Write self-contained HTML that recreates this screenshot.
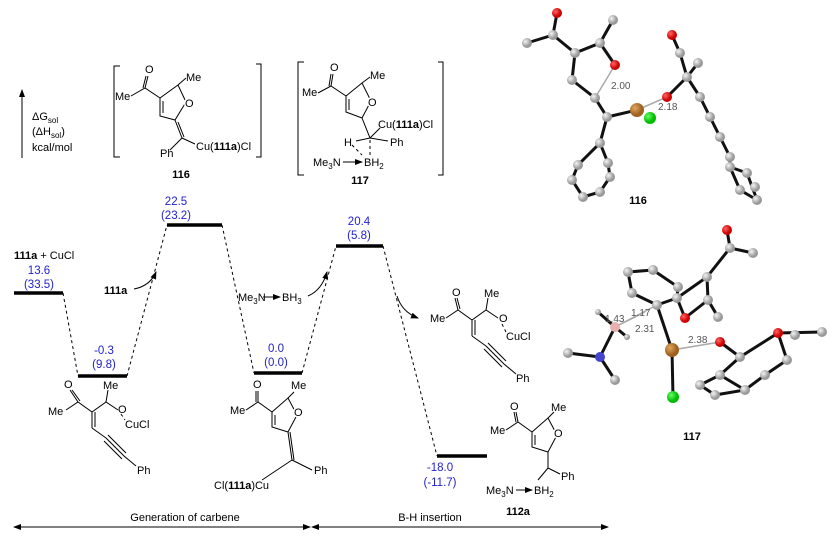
<!DOCTYPE html>
<html><head><meta charset="utf-8"><style>
html,body{margin:0;padding:0;background:#fff;}
svg{display:block;font-family:"Liberation Sans",Arial,sans-serif;}
.b{fill:#2222cc;font-size:11.5px;text-anchor:middle}
.t{font-size:11px;fill:#000}
.lv{stroke:#000;stroke-width:3.5}
.d{stroke:#000;stroke-width:1;stroke-dasharray:3,3;fill:none}
.l{stroke:#000;stroke-width:1;fill:none}
.k{stroke:#111;stroke-width:3;fill:none;stroke-linecap:round}
.g{stroke:#aaa;stroke-width:1.5}
.w{paint-order:stroke;stroke:#fff;stroke-width:3}
</style></head><body>
<svg width="835" height="537" viewBox="0 0 835 537" xmlns="http://www.w3.org/2000/svg">
<defs>
<marker id="ah" markerWidth="8" markerHeight="6" refX="7" refY="3" orient="auto"><path d="M0,0 L8,3 L0,6 z" fill="#000"/></marker>
<marker id="as" markerWidth="8" markerHeight="6" refX="1" refY="3" orient="auto"><path d="M8,0 L0,3 L8,6 z" fill="#000"/></marker>
<radialGradient id="gr" cx="35%" cy="35%"><stop offset="0" stop-color="#f4f4f4"/><stop offset="1" stop-color="#999"/></radialGradient>
<radialGradient id="rd" cx="35%" cy="35%"><stop offset="0" stop-color="#ff6666"/><stop offset="1" stop-color="#cc0000"/></radialGradient>
<radialGradient id="cu" cx="35%" cy="35%"><stop offset="0" stop-color="#e0a860"/><stop offset="1" stop-color="#a06020"/></radialGradient>
<radialGradient id="cl" cx="35%" cy="35%"><stop offset="0" stop-color="#66ff66"/><stop offset="1" stop-color="#00bb00"/></radialGradient>
</defs>

<line x1="22" y1="158" x2="22" y2="90" class="l" marker-end="url(#ah)"/>
<text x="32" y="120" class="t">ΔG<tspan font-size="8" dy="3">sol</tspan></text>
<text x="32" y="135" class="t">(ΔH<tspan font-size="8" dy="3">sol</tspan><tspan dy="-3">)</tspan></text>
<text x="32" y="151" class="t">kcal/mol</text>

<line x1="14" y1="293" x2="63" y2="293" class="lv"/>
<line x1="78" y1="376" x2="127" y2="376" class="lv"/>
<line x1="167" y1="225" x2="222" y2="225" class="lv"/>
<line x1="254" y1="373" x2="302" y2="373" class="lv"/>
<line x1="336" y1="246" x2="383" y2="246" class="lv"/>
<line x1="437" y1="456" x2="487" y2="456" class="lv"/>
<line x1="63" y1="293" x2="78" y2="376" class="d"/>
<line x1="127" y1="376" x2="167" y2="225" class="d"/>
<line x1="222" y1="225" x2="254" y2="373" class="d"/>
<line x1="302" y1="373" x2="336" y2="246" class="d"/>
<line x1="383" y1="246" x2="437" y2="456" class="d"/>

<text x="14" y="259" class="t" font-weight="bold">111a<tspan font-weight="normal"> + CuCl</tspan></text>
<text x="39" y="274" class="b">13.6</text><text x="39" y="288" class="b">(33.5)</text>
<text x="104" y="354" class="b">-0.3</text><text x="104" y="368" class="b">(9.8)</text>
<text x="176" y="205" class="b">22.5</text><text x="176" y="219" class="b">(23.2)</text>
<text x="276" y="352" class="b">0.0</text><text x="276" y="366" class="b">(0.0)</text>
<text x="359" y="225" class="b">20.4</text><text x="359" y="239" class="b">(5.8)</text>
<text x="440" y="471" class="b">-18.0</text><text x="440" y="486" class="b">(-11.7)</text>

<text x="104" y="294" class="t" font-weight="bold">111a</text>
<path d="M134,289 Q150,286 156,272" class="l" marker-end="url(#ah)"/>
<text x="238" y="301" class="t">Me<tspan font-size="8" dy="3">3</tspan><tspan dy="-3">N</tspan></text>
<line x1="263" y1="297" x2="280" y2="297" class="l" marker-end="url(#ah)"/>
<text x="282" y="301" class="t">BH<tspan font-size="8" dy="3">3</tspan></text>
<path d="M308,296 Q322,290 327,272" class="l" marker-end="url(#ah)"/>
<path d="M397,296 Q402,312 418,318" class="l" marker-end="url(#ah)"/>

<line x1="14" y1="527" x2="310" y2="527" class="l" marker-start="url(#as)" marker-end="url(#ah)"/>
<line x1="312" y1="527" x2="608" y2="527" class="l" marker-start="url(#as)" marker-end="url(#ah)"/>
<text x="185" y="521" class="t" text-anchor="middle">Generation of carbene</text>
<text x="430" y="521" class="t" text-anchor="middle">B-H insertion</text>

<!-- 116 -->
<path d="M120,66 H114 V157 H120" class="l"/><path d="M256,64 H261 V157 H256" class="l"/>
<text x="115" y="100" class="t">Me</text><text x="145" y="73" class="t">O</text>
<path d="M131,96 L145,88 L160,98 M145,88 L148,76 M143,88 L146,76 M160,98 L178,85 L186,102 L175,120 L160,116 Z M163,101 L163,113 M178,85 L186,78 M175,120 L182,138 M178,122 L184,137 M182,138 L170,150 M182,138 L195,144" class="l"/>
<text x="186" y="81" class="t">Me</text><text x="185" y="107" class="t w">O</text>
<text x="160" y="157" class="t">Ph</text>
<text x="196" y="150" class="t">Cu(<tspan font-weight="bold">111a</tspan>)Cl</text>
<text x="181" y="178" class="t" font-weight="bold" text-anchor="middle">116</text>

<!-- 117 -->
<path d="M304,62 H298 V175 H304" class="l"/><path d="M438,62 H443 V175 H438" class="l"/>
<text x="302" y="96" class="t">Me</text><text x="330" y="71" class="t">O</text>
<path d="M318,93 L331,86 L346,96 M331,86 L333,74 M329,86 L331,74 M346,96 L362,83 L371,101 L362,118 L346,112 Z M349,99 L349,110 M362,83 L370,77 M362,118 L370,138 M370,138 L380,128 M370,138 L388,141 M370,138 L356,141" class="l"/>
<path d="M370,140 L370,156 M352,145 L362,155" class="d"/>
<text x="370" y="79" class="t">Me</text><text x="368" y="106" class="t w">O</text>
<text x="378" y="128" class="t">Cu(<tspan font-weight="bold">111a</tspan>)Cl</text>
<text x="390" y="146" class="t">Ph</text><text x="344" y="146" class="t">H</text>
<text x="313" y="166" class="t">Me<tspan font-size="8" dy="3">3</tspan><tspan dy="-3">N</tspan></text>
<line x1="343" y1="162" x2="362" y2="162" class="l" marker-end="url(#ah)"/>
<text x="364" y="166" class="t">BH<tspan font-size="8" dy="3">2</tspan></text>
<text x="360" y="184" class="t" font-weight="bold" text-anchor="middle">117</text>

<!-- bottom-left -->
<text x="48" y="415" class="t">Me</text><text x="64" y="388" class="t">O</text>
<path d="M66,410 L78,402 L92,412 L106,402 L118,410 M78,402 L70,390 M80,401 L72,390 M106,402 L108,390 M92,412 L92,428 M95,412 L95,427 M92,428 L106,438 M106,438 L124,456 M108,435 L126,453 M104,441 L122,459 M124,456 L136,466" class="l"/>
<text x="103" y="389" class="t">Me</text><text x="118" y="413" class="t">O</text>
<path d="M121,414 L125,420" class="d"/>
<text x="125" y="428" class="t">CuCl</text>
<text x="137" y="474" class="t">Ph</text>

<!-- bottom-middle -->
<text x="230" y="414" class="t">Me</text><text x="253" y="388" class="t">O</text>
<path d="M246,410 L258,402 L272,412 M258,402 L258,391 M256,402 L256,391 M272,412 L288,398 L297,415 L288,432 L272,427 Z M275,415 L275,425 M288,398 L294,392 M288,432 L292,460 M290,432 L294,460 M292,460 L262,480 M292,460 L312,470" class="l"/>
<text x="291" y="389" class="t">Me</text><text x="294" y="416" class="t w">O</text>
<text x="214" y="489" class="t">Cl(<tspan font-weight="bold">111a</tspan>)Cu</text>
<text x="314" y="474" class="t">Ph</text>

<!-- right after 20.4 -->
<text x="430" y="322" class="t">Me</text><text x="452" y="296" class="t">O</text>
<path d="M446,318 L458,310 L472,320 L486,310 L498,318 M458,310 L455,298 M460,309 L457,298 M486,310 L488,298 M472,320 L472,336 M475,320 L475,335 M472,336 L486,346 M486,346 L504,364 M488,343 L506,361 M484,349 L502,367 M504,364 L516,374" class="l"/>
<text x="484" y="297" class="t">Me</text><text x="499" y="322" class="t">O</text>
<path d="M502,324 L506,332" class="d"/>
<text x="506" y="340" class="t">CuCl</text>
<text x="516" y="382" class="t">Ph</text>

<!-- 112a -->
<text x="490" y="434" class="t">Me</text><text x="510" y="410" class="t">O</text>
<path d="M506,430 L518,422 L532,432 M518,422 L516,412 M516,422 L514,412 M532,432 L548,418 L557,435 L548,452 L532,447 Z M535,435 L535,445 M548,418 L554,412 M548,452 L548,468 M548,468 L560,474 M548,468 L538,480" class="l"/>
<text x="551" y="411" class="t">Me</text><text x="554" y="437" class="t w">O</text>
<text x="561" y="480" class="t">Ph</text>
<text x="486" y="494" class="t">Me<tspan font-size="8" dy="3">3</tspan><tspan dy="-3">N</tspan></text>
<line x1="516" y1="490" x2="532" y2="490" class="l" marker-end="url(#ah)"/>
<text x="534" y="494" class="t">BH<tspan font-size="8" dy="3">2</tspan></text>
<text x="518" y="515" class="t" font-weight="bold" text-anchor="middle">112a</text>

<!-- 3D 116 -->
<g>
<path class="k" d="M557,13 L553,35 L527,43 M553,35 L575,53 L600,43 L613,20 M600,43 L615,65 M575,53 L572,80 L595,98 L607,117 L637,110 M607,117 L600,143 L578,165 L572,180 L583,197 L600,192 L610,177 L608,163 L600,143"/>
<path class="k" d="M672,35 L680,53 L687,77 L698,63 M687,77 L667,97 M687,77 L700,97 L710,117 L720,137 L730,157 L730,167 L747,173 L757,200 L740,190 L730,167"/>
<line class="g" x1="615" y1="65" x2="595" y2="98"/><line class="g" x1="637" y1="110" x2="667" y2="97"/>
<g fill="url(#gr)">
<circle cx="553" cy="35" r="5"/><circle cx="527" cy="43" r="5"/><circle cx="575" cy="53" r="5"/><circle cx="600" cy="43" r="5"/><circle cx="613" cy="20" r="5"/><circle cx="572" cy="80" r="5"/><circle cx="595" cy="98" r="5"/><circle cx="607" cy="117" r="5"/><circle cx="600" cy="143" r="5"/><circle cx="578" cy="165" r="5"/><circle cx="572" cy="180" r="5"/><circle cx="583" cy="197" r="5"/><circle cx="600" cy="192" r="5"/><circle cx="610" cy="177" r="5"/><circle cx="608" cy="163" r="5"/>
<circle cx="680" cy="53" r="5"/><circle cx="687" cy="77" r="5"/><circle cx="698" cy="63" r="5"/><circle cx="700" cy="97" r="5"/><circle cx="710" cy="117" r="5"/><circle cx="720" cy="137" r="5"/><circle cx="730" cy="157" r="5"/><circle cx="730" cy="167" r="5"/><circle cx="747" cy="173" r="5"/><circle cx="757" cy="200" r="5"/><circle cx="740" cy="190" r="5"/><circle cx="755" cy="187" r="5"/>
</g>
<circle cx="557" cy="13" r="5" fill="url(#rd)"/><circle cx="615" cy="65" r="5" fill="url(#rd)"/><circle cx="672" cy="35" r="5" fill="url(#rd)"/><circle cx="667" cy="97" r="5" fill="url(#rd)"/>
<circle cx="650" cy="118" r="6" fill="url(#cl)"/><circle cx="637" cy="110" r="7" fill="url(#cu)"/>
<text x="611" y="89" font-size="10" fill="#555">2.00</text><text x="658" y="110" font-size="10" fill="#555">2.18</text>
<text x="638" y="204" class="t" font-weight="bold" text-anchor="middle">116</text>
</g>

<!-- 3D 117 -->
<g>
<path class="k" d="M727,230 L730,248 L753,253 M730,248 L707,277 L708,300 L718,317 M708,300 L685,318 L677,298 L707,277 M677,298 L657,305 L672,350 L673,397 M628,272 L653,270 L678,287 L677,298 M628,272 L632,293 L657,305 M615,327 L600,357 L568,353 M600,357 L615,380 M615,327 L598,312 M615,327 L627,337"/>
<path class="k" d="M720,342 L740,357 L778,333 L822,332 M740,357 L720,375 L700,385 L715,395 L745,390 L765,375 L787,360 L778,333 M720,375 L745,390"/>
<line class="g" x1="672" y1="350" x2="720" y2="342"/><line class="g" x1="615" y1="327" x2="657" y2="305"/><line class="g" x1="615" y1="327" x2="645" y2="312"/>
<g fill="url(#gr)">
<circle cx="730" cy="248" r="5"/><circle cx="753" cy="253" r="5"/><circle cx="707" cy="277" r="5"/><circle cx="708" cy="300" r="5"/><circle cx="718" cy="317" r="5"/><circle cx="677" cy="298" r="5"/><circle cx="657" cy="305" r="5"/><circle cx="628" cy="272" r="5"/><circle cx="653" cy="270" r="5"/><circle cx="678" cy="287" r="5"/><circle cx="632" cy="293" r="5"/>
<circle cx="568" cy="353" r="5"/><circle cx="615" cy="380" r="5"/><circle cx="598" cy="312" r="3"/><circle cx="627" cy="337" r="3"/>
<circle cx="740" cy="357" r="5"/><circle cx="822" cy="332" r="5"/><circle cx="720" cy="375" r="5"/><circle cx="700" cy="385" r="5"/><circle cx="715" cy="395" r="5"/><circle cx="745" cy="390" r="5"/><circle cx="765" cy="375" r="5"/><circle cx="787" cy="360" r="5"/><circle cx="795" cy="335" r="5"/>
</g>
<circle cx="727" cy="230" r="5" fill="url(#rd)"/><circle cx="685" cy="318" r="5" fill="url(#rd)"/><circle cx="720" cy="342" r="5" fill="url(#rd)"/><circle cx="778" cy="333" r="5" fill="url(#rd)"/>
<circle cx="615" cy="327" r="5" fill="#e8b0b0"/><circle cx="600" cy="357" r="5" fill="#4444cc"/>
<circle cx="672" cy="350" r="7" fill="url(#cu)"/><circle cx="673" cy="397" r="6" fill="url(#cl)"/>
<text x="605" y="322" font-size="10" fill="#555">1.43</text><text x="631" y="316" font-size="10" fill="#555">1.17</text>
<text x="635" y="332" font-size="10" fill="#555">2.31</text><text x="688" y="343" font-size="10" fill="#555">2.38</text>
<text x="692" y="440" class="t" font-weight="bold" text-anchor="middle">117</text>
</g>
</svg>
</body></html>
